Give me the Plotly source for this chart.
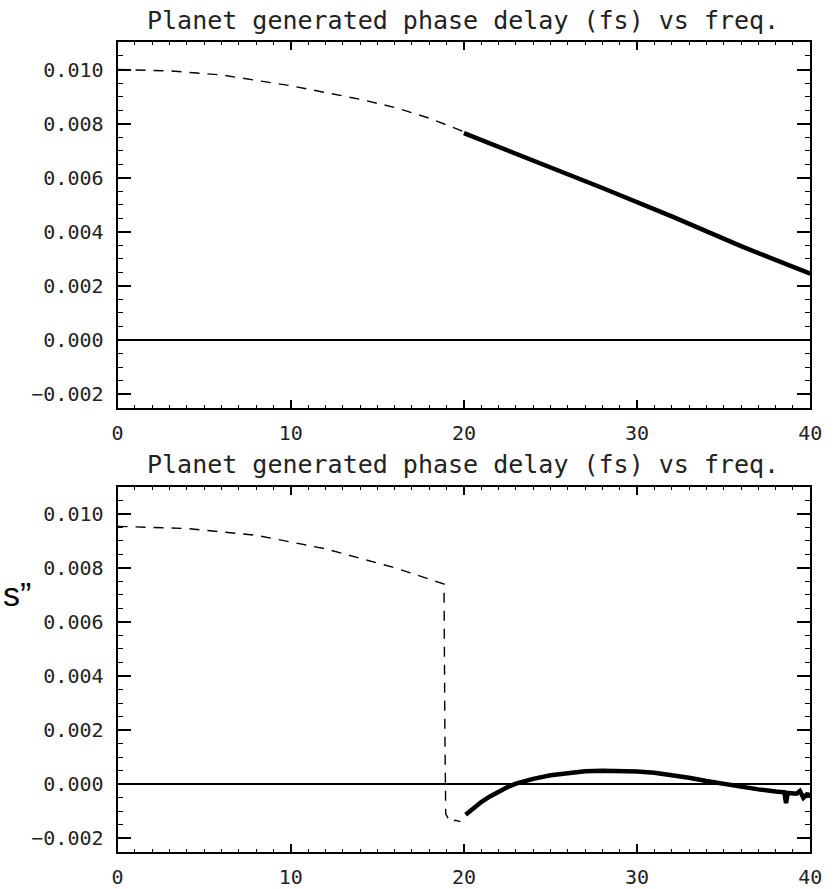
import plotly.graph_objects as go

W, H = 836, 889

# ---- data ----
top_dash_x = [0, 3, 6, 10, 14, 16, 18, 20]
top_dash_y = [0.0100, 0.00995, 0.00980, 0.00940, 0.00890, 0.00860, 0.00820, 0.00770]
top_solid_x = [20, 24, 28, 32, 36, 40]
top_solid_y = [0.00765, 0.00665, 0.00562, 0.00457, 0.00347, 0.00245]

bot_dash_x = [0, 4, 8, 12, 16, 18.6, 18.85, 18.9, 18.95, 19.2, 19.5, 19.8]
bot_dash_y = [0.00953, 0.00945, 0.00920, 0.00870, 0.00800, 0.00745, 0.00740,
              0.00200, -0.00110, -0.00138, -0.00133, -0.00138]
bot_solid_x = [20.1, 20.5, 21, 21.5, 22, 22.5, 23, 23.5, 24, 25, 26, 27, 28, 29, 30, 31, 32, 33, 34, 35, 36, 37, 38,
               38.5, 38.6, 38.7, 39.2, 39.4, 39.6, 39.8, 40]
bot_solid_y = [-0.00113, -0.00090, -0.00066, -0.00045, -0.00027, -0.00011, 0.00002, 0.00012, 0.00020, 0.00033, 0.00042,
               0.00048, 0.00050, 0.00050, 0.00047, 0.00042, 0.00034, 0.00024, 0.00012, 0.00001, -0.00010, -0.00019,
               -0.00027, -0.00030, -0.00070, -0.00032, -0.00035, -0.00025, -0.00050, -0.00038, -0.00040]

title_text = "Planet generated phase delay (fs) vs freq."
x_ticks = [0, 10, 20, 30, 40]
y_ticks = [-0.002, 0.000, 0.002, 0.004, 0.006, 0.008, 0.010]
x_range = [0, 40]
y_range = [-0.0025, 0.011]

# ---- figure ----
fig = go.Figure()
dash_style = dict(color="black", width=1.4, dash="10px,8px")
solid_style = dict(color="black", width=4.5)

fig.add_trace(go.Scatter(x=top_dash_x, y=top_dash_y, mode="lines", line=dash_style, xaxis="x", yaxis="y"))
fig.add_trace(go.Scatter(x=top_solid_x, y=top_solid_y, mode="lines", line=solid_style, xaxis="x", yaxis="y"))
fig.add_trace(go.Scatter(x=bot_dash_x, y=bot_dash_y, mode="lines", line=dash_style, xaxis="x2", yaxis="y2"))
fig.add_trace(go.Scatter(x=bot_solid_x, y=bot_solid_y, mode="lines", line=solid_style, xaxis="x2", yaxis="y2"))

tick_font = dict(family="DejaVu Sans Mono", size=20, color="#222")
xdom = [114 / W, 822 / W]
top_dom = [(H - 410) / H, (H - 42.7) / H]
bot_dom = [(H - 856.7) / H, (H - 489.3) / H]

def xaxis_cfg(anchor):
    return dict(domain=xdom, range=x_range, tickvals=x_ticks, ticks="inside", ticklen=8, tickwidth=1.5,
                tickcolor="black", showline=True, linewidth=2, linecolor="black", mirror="ticks",
                showgrid=False, zeroline=False, tickfont=tick_font, anchor=anchor,
                ticklabelstandoff=6, ticklabeloverflow="allow",
                minor=dict(dtick=1, ticks="inside", ticklen=3, tickwidth=1.2, tickcolor="black", showgrid=False))

def yaxis_cfg(dom, anchor):
    return dict(domain=dom, range=y_range, tickvals=y_ticks, tickformat=".3f", ticks="inside", ticklen=13,
                tickwidth=1.5, tickcolor="black", showline=True, linewidth=2, linecolor="black", mirror="ticks",
                showgrid=False, zeroline=True, zerolinecolor="black", zerolinewidth=1.5, tickfont=tick_font,
                anchor=anchor, ticklabelstandoff=8,
                minor=dict(dtick=0.0005, tick0=0, ticks="inside", ticklen=5, tickwidth=1.2, tickcolor="black",
                           showgrid=False))

fig.update_layout(
    width=W, height=H,
    margin=dict(l=0, r=0, t=0, b=0),
    paper_bgcolor="white", plot_bgcolor="white",
    showlegend=False,
    xaxis=xaxis_cfg("y"),
    yaxis=yaxis_cfg(top_dom, "x"),
    xaxis2=xaxis_cfg("y2"),
    yaxis2=yaxis_cfg(bot_dom, "x2"),
)

title_font = dict(family="DejaVu Sans Mono", size=25, color="#222")
fig.add_annotation(text=title_text, xref="paper", yref="paper", x=(145 + 790) / 2 / W, y=(H - 21) / H,
                   xanchor="center", yanchor="middle", showarrow=False, font=title_font)
fig.add_annotation(text=title_text, xref="paper", yref="paper", x=(145 + 790) / 2 / W, y=(H - 467) / H,
                   xanchor="center", yanchor="middle", showarrow=False, font=title_font)
fig.add_annotation(text="s”", xref="paper", yref="paper", x=28 / W, y=(H - 597) / H,
                   xanchor="right", yanchor="middle", showarrow=False,
                   font=dict(family="Liberation Sans", size=34, color="black"))

fig.write_html("out.html")
